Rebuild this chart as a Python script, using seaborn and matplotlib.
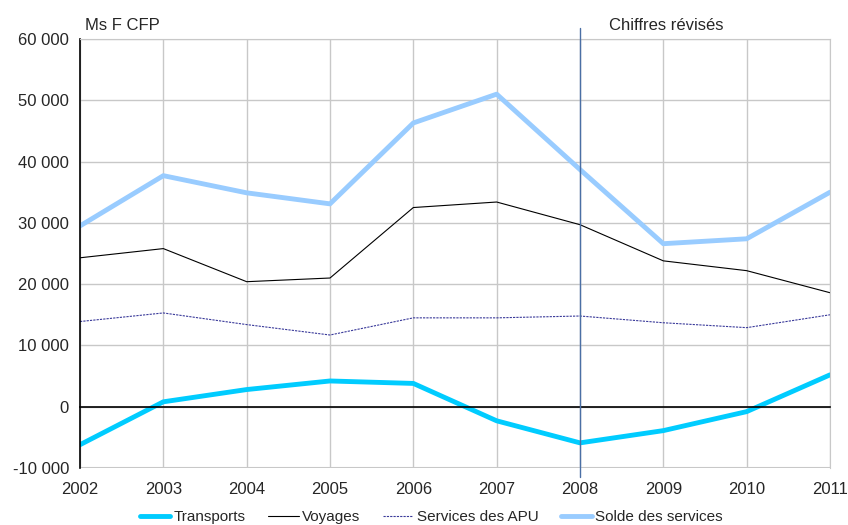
import matplotlib
matplotlib.use("Agg")
import matplotlib.pyplot as plt
import matplotlib.ticker as mticker
import seaborn as sns
import pandas as pd

years = [2002, 2003, 2004, 2005, 2006, 2007, 2008, 2009, 2010, 2011]
transports = [-6200, 800, 2800, 4200, 3800, -2300, -5900, -3900, -800, 5200]
voyages = [24300, 25800, 20400, 21000, 32500, 33400, 29700, 23800, 22200, 18600]
services_apu = [13900, 15300, 13400, 11700, 14500, 14500, 14800, 13700, 12900, 15000]
solde = [29500, 37700, 34900, 33100, 46300, 51000, 38700, 26600, 27400, 35000]

df = pd.DataFrame({
    "Année": years,
    "Transports": transports,
    "Voyages": voyages,
    "Services des APU": services_apu,
    "Solde des services": solde,
})

sns.set_style("white")
plt.rcParams["font.family"] = ["Liberation Sans", "DejaVu Sans"]

fig, ax = plt.subplots(figsize=(8.48, 5.25), dpi=100)
fig.subplots_adjust(left=80 / 848, right=830 / 848, top=1 - 39 / 525, bottom=1 - 468 / 525)

sns.lineplot(data=df, x="Année", y="Transports", color="#00ccff", lw=3.5,
             label="Transports", ax=ax)
sns.lineplot(data=df, x="Année", y="Voyages", color="black", lw=0.8,
             label="Voyages", ax=ax)
sns.lineplot(data=df, x="Année", y="Services des APU", color="#3a3a9a", lw=0.8,
             ls=(0, (2, 1)), label="Services des APU", ax=ax)
sns.lineplot(data=df, x="Année", y="Solde des services", color="#99ccff", lw=3.5,
             label="Solde des services", ax=ax)

ax.set_xlim(2002, 2011)
ax.set_ylim(-10000, 60000)
ax.set_xlabel("")
ax.set_ylabel("")

# grille
ax.set_xticks(years)
ax.set_yticks(range(-10000, 60001, 10000))
ax.grid(True, color="#c8c8c8", lw=1)
ax.set_axisbelow(True)
ax.yaxis.set_major_formatter(mticker.FuncFormatter(lambda v, p: f"{int(v):,}".replace(",", " ")))
ax.tick_params(axis="y", labelsize=12, length=5, direction="out", color="black", pad=3)

for side in ["top", "right"]:
    ax.spines[side].set_color("#c8c8c8")
ax.spines["left"].set_color("black")
ax.spines["left"].set_linewidth(1.2)

# axe des abscisses sur le zéro, étiquettes en bas
ax.spines["bottom"].set_position(("data", 0))
ax.spines["bottom"].set_color("black")
ax.spines["bottom"].set_linewidth(1.2)
ax.tick_params(axis="x", length=5, direction="out", color="black", labelbottom=False)
ax.axhline(-10000, color="#c8c8c8", lw=1.5, zorder=1)

sec = ax.secondary_xaxis("bottom")
sec.set_xticks(years)
sec.set_xticklabels([str(y) for y in years])
sec.tick_params(length=0, labelsize=12, pad=10)
sec.spines["bottom"].set_visible(False)

# séparation chiffres révisés
ax.axvline(2008, ymin=-0.022, ymax=1.026, color="#4a6fa5", lw=1, clip_on=False, zorder=5)
ax.text(2002.06, 61000, "Ms F CFP", fontsize=12, ha="left", va="bottom")
ax.text(2008.35, 61000, "Chiffres révisés", fontsize=12, ha="left", va="bottom")

ax.legend(loc="center", bbox_to_anchor=(0.468, -0.114), ncol=4, frameon=False,
          fontsize=11, handlelength=2.0, handletextpad=0.2, columnspacing=1.5,
          borderpad=0.1)

plt.savefig("out.png", dpi=100)
plt.close()
